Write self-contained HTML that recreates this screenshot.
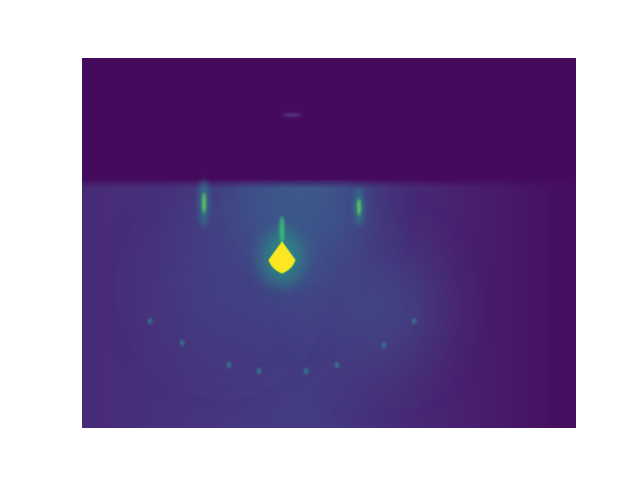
<!DOCTYPE html>
<html><head><meta charset="utf-8"><style>
html,body{margin:0;padding:0;background:#fff;width:640px;height:480px;overflow:hidden;font-family:"Liberation Sans",sans-serif}
</style></head><body>
<svg id="chart" width="640" height="480" viewBox="0 0 640 480" xmlns="http://www.w3.org/2000/svg">
<defs>
<clipPath id="clip"><rect x="82" y="58" width="494" height="370"/></clipPath>
<clipPath id="clipLow"><rect x="82" y="180" width="494" height="248"/></clipPath>
<filter id="b1" x="-100%" y="-100%" width="300%" height="300%"><feGaussianBlur stdDeviation="1.2"/></filter>
<filter id="b3" x="-100%" y="-100%" width="300%" height="300%"><feGaussianBlur stdDeviation="3"/></filter>
<filter id="b8" x="-100%" y="-100%" width="300%" height="300%"><feGaussianBlur stdDeviation="8"/></filter>
<filter id="b30" x="-100%" y="-100%" width="300%" height="300%"><feGaussianBlur stdDeviation="30"/></filter>
<linearGradient id="lowerGrad" x1="0" y1="0" x2="1" y2="0">
<stop offset="0" stop-color="#482a76"/><stop offset="0.45" stop-color="#443d82"/><stop offset="0.75" stop-color="#482270"/><stop offset="1" stop-color="#460c5e"/>
</linearGradient>
<linearGradient id="fadeTop" x1="0" y1="0" x2="0" y2="1">
<stop offset="0" stop-color="#450a5c" stop-opacity="1"/><stop offset="1" stop-color="#450a5c" stop-opacity="0"/>
</linearGradient>
</defs>
<g id="plot" clip-path="url(#clip)">
<rect x="82" y="58" width="494" height="370" fill="#450a5c"/>
<rect x="82" y="180" width="494" height="248" fill="url(#lowerGrad)"/>
<g clip-path="url(#clipLow)"><g id="glow"></g></g>
<rect x="82" y="178" width="494" height="10" fill="url(#fadeTop)"/>
<g id="marks"></g>
</g>
</svg>
<script>
// image data coordinates (pixels in 494x370 image)
const glowX = [200, 140, 230, 300];
const glowY = [170, 230, 130, 250];
const glowR = [70, 60, 50, 50];
const glowC = ['#3d5a8c', '#433f84', '#3a5f8d', '#404f8a'];
const streakX = [122, 277];
const streakY = [145, 149];
const streakH = [30, 24];
const spotX = [68, 100, 147, 177, 224, 255, 302, 332];
const spotY = [263, 285, 307, 313, 313, 307, 287, 263];
const centerX = [200];
const centerY = [200];

const X = v => 82 + v;
const Y = v => 58 + v;
const NS = 'http://www.w3.org/2000/svg';
function mk(tag, attrs, parent) {
  const e = document.createElementNS(NS, tag);
  for (const k in attrs) e.setAttribute(k, attrs[k]);
  parent.appendChild(e);
  return e;
}
const glow = document.getElementById('glow');
const marks = document.getElementById('marks');
for (let i = 0; i < glowX.length; i++) {
  const e = mk('ellipse', {cx: X(glowX[i]), cy: Y(glowY[i]), rx: glowR[i], ry: glowR[i] * 1.1, fill: glowC[i], opacity: 0.75, filter: 'url(#b30)'}, glow);
  
  
}
const art = mk('ellipse', {cx: X(210), cy: Y(57), rx: 10, ry: 1.5, fill: '#5a3f85', filter: 'url(#b1)'}, marks);


for (let i = 0; i < streakX.length; i++) {
  const g = mk('ellipse', {cx: X(streakX[i]), cy: Y(streakY[i]), rx: 5, ry: streakH[i] * 0.8, fill: '#2a8a8c', opacity: 0.6, filter: 'url(#b3)'}, marks);
  
  
  const s = mk('ellipse', {cx: X(streakX[i]), cy: Y(streakY[i]), rx: 1.8, ry: streakH[i] * 0.35, fill: '#5ec962', filter: 'url(#b1)'}, marks);
  
  
}
for (let i = 0; i < spotX.length; i++) {
  const s = mk('ellipse', {cx: X(spotX[i]), cy: Y(spotY[i]), rx: 2, ry: 3, fill: '#2f8f91', opacity: 0.8, filter: 'url(#b1)'}, marks);
  
  
}
const cx = X(centerX[0]), cy = Y(centerY[0]);
const halo = mk('ellipse', {cx: cx, cy: cy, rx: 22, ry: 28, fill: '#22a884', opacity: 0.55, filter: 'url(#b8)'}, marks);


const tail = mk('ellipse', {cx: cx, cy: cy - 28, rx: 2.5, ry: 14, fill: '#35b779', filter: 'url(#b1)'}, marks);


const dia = mk('path', {d: `M${cx} ${cy-16} L${cx+13} ${cy+2} Q${cx+10} ${cy+11} ${cx} ${cy+15} Q${cx-10} ${cy+11} ${cx-13} ${cy+2} Z`, fill: '#fde725', stroke: '#c8e020', 'stroke-width': 1.2}, marks);


</script>
</body></html>
